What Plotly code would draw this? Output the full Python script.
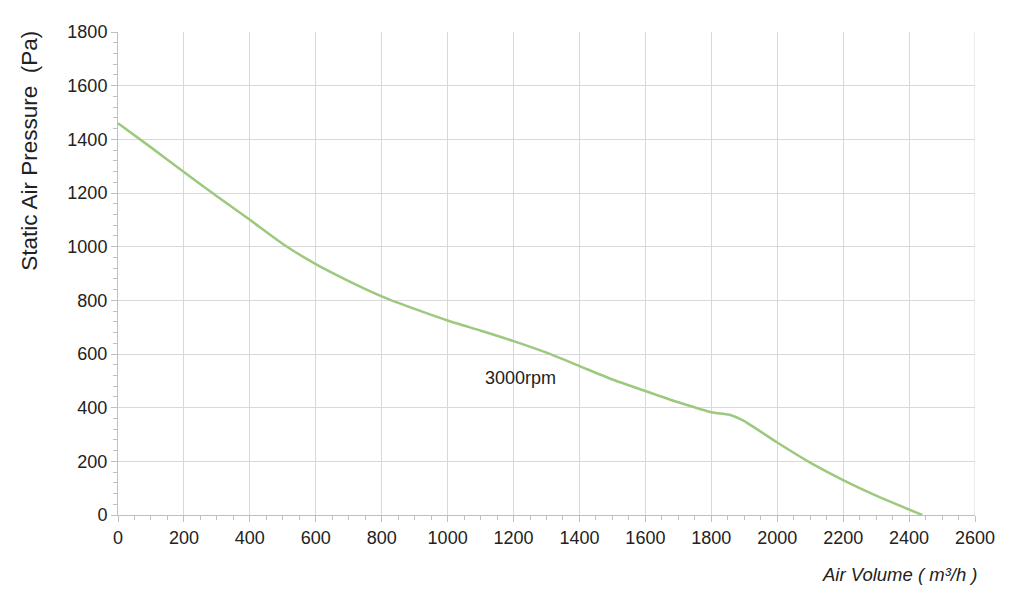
import plotly.graph_objects as go

# air volume (m3/h) vs static pressure (Pa)
air_volume = [0, 100, 200, 300, 400, 500, 600, 700, 800, 900, 1000, 1100, 1200,
              1300, 1400, 1500, 1600, 1700, 1800, 1860, 1900, 2000, 2100, 2200,
              2300, 2440]
pressure = [1460, 1370, 1278, 1188, 1100, 1010, 935, 872, 815, 768, 725, 687, 648,
            605, 555, 505, 462, 420, 383, 372, 350, 270, 195, 130, 72, 0]

curve_label = "3000rpm"
label_x, label_y = 1220, 510

fig = go.Figure()
fig.add_trace(go.Scatter(x=air_volume, y=pressure, mode="lines",
                         line=dict(color="#9dc97f", width=2.5, shape="spline", smoothing=0.6),
                         name=curve_label, showlegend=False))
fig.add_annotation(x=label_x, y=label_y, text=curve_label, showarrow=False,
                   font=dict(size=18, color="#222"))

grid = "#d9d9d9"
fig.update_xaxes(range=[0, 2600], dtick=200, showgrid=True, gridcolor=grid, gridwidth=1,
                 showline=True, linecolor="#bfbfbf", ticks="outside", tickcolor="#bfbfbf",
                 ticklen=6, minor=dict(dtick=50, ticks="outside", ticklen=4, tickcolor="#bfbfbf", showgrid=False),
                 zeroline=False, automargin=False,
                 tickfont=dict(size=18, color="#222"))
fig.update_yaxes(range=[0, 1800], dtick=200, showgrid=True, gridcolor=grid, gridwidth=1,
                 showline=True, linecolor="#bfbfbf", ticks="outside", tickcolor="#bfbfbf",
                 ticklen=6, minor=dict(dtick=40, ticks="outside", ticklen=4, tickcolor="#bfbfbf", showgrid=False),
                 zeroline=False, automargin=False,
                 tickfont=dict(size=18, color="#222"))

# axis titles placed like the original (y title sits high, x title bottom-right)
fig.add_annotation(xref="paper", yref="paper", x=-0.1027, y=0.754, textangle=-90,
                   xanchor="center", yanchor="middle",
                   text="Static Air Pressure  (Pa)", showarrow=False,
                   font=dict(size=22.5, color="#222"))
fig.add_annotation(xref="paper", yref="paper", x=1.006, y=-0.149, xanchor="right",
                   text="<i>Air Volume ( m³/h )</i>", showarrow=False,
                   font=dict(size=18.5, color="#222"))

# right border line of the plot area
fig.add_shape(type="line", xref="x", yref="paper", x0=2600, x1=2600, y0=0, y1=1,
              line=dict(color=grid, width=1))

fig.update_layout(width=1024, height=610, plot_bgcolor="white", paper_bgcolor="white",
                  font=dict(family="Liberation Sans, Arial, sans-serif"),
                  margin=dict(l=110, r=57, t=24, b=103))
fig.write_html("out.html")
